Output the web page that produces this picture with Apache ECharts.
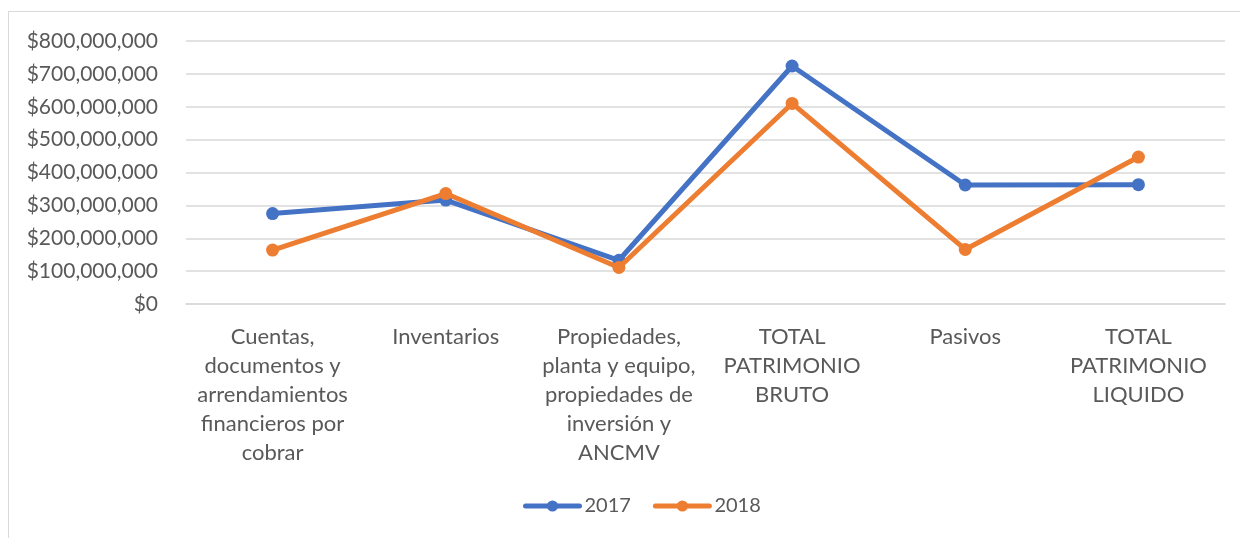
<!DOCTYPE html>
<html lang="es">
<head>
  <meta charset="UTF-8">
  <title>Patrimonio 2017 - 2018</title>
  <style>
    html, body { margin: 0; padding: 0; background: #fff; }
    #frame { position: absolute; left: 8px; top: 11px; width: 1240px; height: 540px; border: 1px solid #d9d9d9; box-sizing: border-box; }
    #chart { position: absolute; left: 0; top: 0; width: 1240px; height: 538px; }
  </style>
</head>
<body>
  <div id="frame"></div>
  <div id="chart"></div>
  <script src="https://cdn.jsdelivr.net/npm/echarts@6/dist/echarts.min.js"></script>
  <script>
    // categorias del eje X (con saltos de linea como en el original)
    var categories = [
      'Cuentas,\ndocumentos y\narrendamientos\nfinancieros por\ncobrar',
      'Inventarios',
      'Propiedades,\nplanta y equipo,\npropiedades de\ninversión y\nANCMV',
      'TOTAL\nPATRIMONIO\nBRUTO',
      'Pasivos',
      'TOTAL\nPATRIMONIO\nLIQUIDO'
    ];
    var values2017 = [275000000, 316000000, 133000000, 724000000, 362000000, 363000000];
    var values2018 = [164000000, 336000000, 111000000, 610000000, 166000000, 447000000];
    var yTicks = [0, 100000000, 200000000, 300000000, 400000000, 500000000, 600000000, 700000000, 800000000];

    var fontFam = 'Lato, "Noto Sans", sans-serif';
    var textColor = '#595959';

    function money(v) {
      return '$' + String(v).replace(/\B(?=(\d{3})+(?!\d))/g, ',');
    }

    var myChart = echarts.init(document.getElementById('chart'));

    var option = {
      animation: false,
      color: ['#4472C4', '#ED7D31'],
      grid: { left: 186, right: 15, top: 41, bottom: 234, containLabel: false },
      legend: {
        bottom: 17,
        left: 518,
        itemWidth: 54,
        itemHeight: 14,
        itemGap: 22,
        lineStyle: { width: 5, cap: 'round' },
        textStyle: { color: textColor, fontSize: 20, fontFamily: fontFam },
        data: ['2017', '2018']
      },
      xAxis: {
        type: 'category',
        data: categories,
        boundaryGap: true,
        axisLine: { lineStyle: { color: '#d9d9d9', width: 1.5 } },
        axisTick: { show: false },
        axisLabel: {
          interval: 0,
          margin: 18,
          color: textColor,
          fontSize: 22,
          lineHeight: 29,
          fontFamily: fontFam,
          align: 'center',
          verticalAlign: 'top'
        }
      },
      yAxis: {
        type: 'value',
        min: yTicks[0],
        max: yTicks[yTicks.length - 1],
        interval: yTicks[1] - yTicks[0],
        axisLine: { show: false },
        axisTick: { show: false },
        splitLine: { lineStyle: { color: '#d9d9d9', width: 1.5 } },
        axisLabel: {
          margin: 28,
          color: textColor,
          fontSize: 21,
          fontFamily: fontFam,
          formatter: money
        }
      },
      series: [
        {
          name: '2017',
          type: 'line',
          data: values2017,
          symbol: 'circle',
          symbolSize: 13,
          lineStyle: { width: 5 },
          z: 2
        },
        {
          name: '2018',
          type: 'line',
          data: values2018,
          symbol: 'circle',
          symbolSize: 13,
          lineStyle: { width: 5 },
          z: 3
        }
      ]
    };

    myChart.setOption(option);
  </script>
</body>
</html>
